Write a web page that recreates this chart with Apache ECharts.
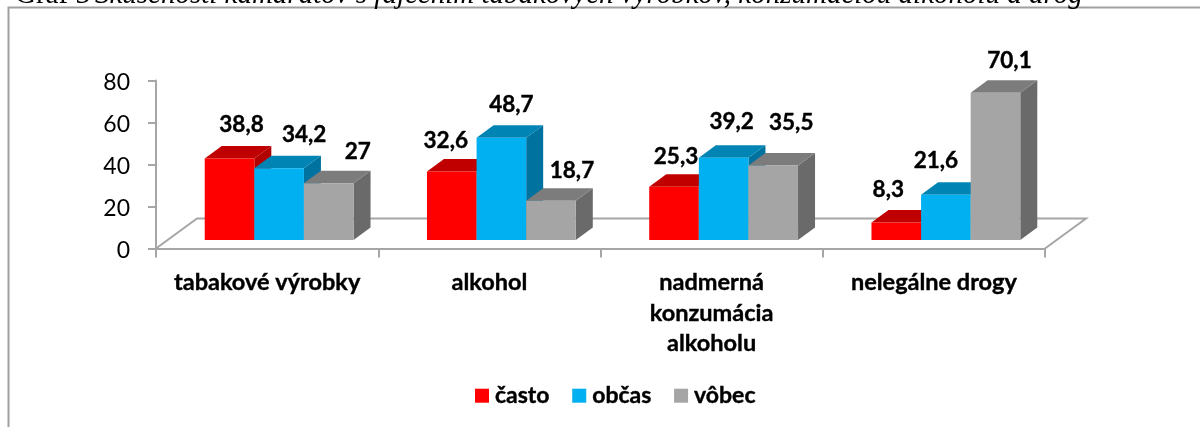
<!DOCTYPE html>
<html><head><meta charset="utf-8">
<style>html,body{margin:0;padding:0;background:#fff}#c{width:1200px;height:427px}</style>
<script src="https://cdn.jsdelivr.net/npm/echarts@6/dist/echarts.min.js"></script>
</head><body><div id="c"></div>
<script>
var categories = ['tabakové výrobky', 'alkohol', 'nadmerná\nkonzumácia\nalkoholu', 'nelegálne drogy'];
var casto = [38.8, 32.6, 25.3, 8.3];
var obcas = [34.2, 48.7, 39.2, 21.6];
var vobec = [27, 18.7, 35.5, 70.1];
var yTicks = [0, 20, 40, 60, 80];

var FONT = 'Lato';
var BAR_RATIO = 0.2232, PLANE_DX = 12, PLANE_DY = -8.5, DEPTH_DX = 17, DEPTH_DY = -12.5;
var ink = '#a6a6a6';

function bar3d(seriesIndex, face, top, side, nudges) {
  return function (params, api) {
    var i = api.value(0), v = api.value(1);
    var base = api.coord([i, 0]), tip = api.coord([i, v]);
    var w = api.size([1, 0])[0] * BAR_RATIO;
    var x0 = base[0] + PLANE_DX + (seriesIndex - 1.5) * w;
    var x1 = x0 + w;
    var y0 = base[1] + PLANE_DY, y1 = tip[1] + PLANE_DY;
    var n = nudges[i];
    function poly(pts, fill) {
      return { type: 'polygon', shape: { points: pts }, style: { fill: fill } };
    }
    return { type: 'group', children: [
      poly([[x1, y0], [x1 + DEPTH_DX, y0 + DEPTH_DY], [x1 + DEPTH_DX, y1 + DEPTH_DY], [x1, y1]], side),
      poly([[x0, y1], [x0 + DEPTH_DX, y1 + DEPTH_DY], [x1 + DEPTH_DX, y1 + DEPTH_DY], [x1, y1]], top),
      poly([[x0, y0], [x1, y0], [x1, y1], [x0, y1]], face),
      { type: 'text', style: {
          x: (x0 + x1) / 2 + n[0], y: y1 + n[1],
          text: String(v).replace('.', ','),
          fill: '#000', stroke: '#000', lineWidth: 0.4,
          font: 'bold 22.5px ' + FONT, align: 'center', verticalAlign: 'middle' } }
    ] };
  };
}
function toPoints(vals) { return vals.map(function (v, i) { return [i, v]; }); }

var chart = echarts.init(document.getElementById('c'));
chart.setOption({
  animation: false,
  backgroundColor: '#fff',
  title: {
    left: 15, top: -19, padding: 0,
    text: '{b|Graf 3} {i|Skúsenosti kamarátov s fajčením tabakových výrobkov, konzumáciou alkoholu a drog}',
    textStyle: { fontWeight: 'normal', rich: {
      b: { fontFamily: 'Liberation Serif', fontWeight: 'normal', fontSize: 29, color: '#000' },
      i: { fontFamily: 'Liberation Serif', fontWeight: 'normal', fontStyle: 'italic', fontSize: 29, color: '#000' }
    } }
  },
  graphic: [{ type: 'polyline', silent: true, shape: { points: [[8.5, 427], [8.5, 7.5], [1200, 7.5]] },
    style: { stroke: '#a0a0a0', lineWidth: 2, fill: null } }],
  legend: {
    left: 475, top: 384, padding: 0, itemWidth: 14, itemHeight: 14, itemGap: 22.5, icon: 'rect',
    textStyle: { fontFamily: FONT, fontWeight: 'bold', fontSize: 23, color: '#000', padding: [0, 0, 0, 1],
      textBorderColor: '#000', textBorderWidth: 0.4 },
    data: ['často', 'občas', 'vôbec']
  },
  grid: { left: 156, right: 155, top: 80.5, height: 168 },
  xAxis: {
    type: 'category', data: categories,
    axisLine: { lineStyle: { color: ink, width: 2 } },
    axisTick: { show: true, length: 9, lineStyle: { color: ink, width: 2 } },
    axisLabel: { interval: 0, margin: 19, fontFamily: FONT, fontWeight: 'bold', fontSize: 23.5, lineHeight: 30.5, color: '#000',
      textBorderColor: '#000', textBorderWidth: 0.4 }
  },
  yAxis: {
    type: 'value', min: 0, max: 80, interval: 20,
    axisLine: { show: true, lineStyle: { color: ink, width: 2 } },
    axisTick: { show: true, length: 8, lineStyle: { color: ink, width: 2 } },
    splitLine: { show: false },
    axisLabel: { margin: 26, fontFamily: FONT, fontSize: 23, color: '#000', verticalAlign: 'top', lineHeight: 5,
      formatter: function (v) { return yTicks.indexOf(v) >= 0 ? String(v) : ''; } }
  },
  series: [
    { type: 'custom', silent: true, z: 1, coordinateSystem: 'cartesian2d', data: [[0, 0]], encode: { x: 0, y: 1 },
      renderItem: function (params) {
        var c = params.coordSys, l = c.x, r = c.x + c.width, b = c.y + c.height, dx = 41, dy = -30;
        return { type: 'polyline', shape: { points: [[l, b], [l + dx, b + dy], [r + dx, b + dy], [r, b]] },
          style: { stroke: ink, lineWidth: 2, fill: null } };
      } },
    { name: 'často', type: 'custom', z: 2, itemStyle: { color: '#ff0000' }, data: toPoints(casto), encode: { x: 0, y: 1 },
      renderItem: bar3d(0, '#ff0000', '#c00000', '#b00000', [[12, -34], [-6, -31], [2, -30], [-8, -33]]) },
    { name: 'občas', type: 'custom', z: 3, itemStyle: { color: '#00b0f0' }, data: toPoints(obcas), encode: { x: 0, y: 1 },
      renderItem: bar3d(1, '#00b0f0', '#0084b4', '#0072a0', [[25, -33], [10, -33], [8, -36], [-10, -34]]) },
    { name: 'vôbec', type: 'custom', z: 4, itemStyle: { color: '#a5a5a5' }, data: toPoints(vobec), encode: { x: 0, y: 1 },
      renderItem: bar3d(2, '#a5a5a5', '#7c7c7c', '#6a6a6a', [[29, -32], [21, -30], [18, -43], [14, -32]]) }
  ]
});
</script></body></html>
